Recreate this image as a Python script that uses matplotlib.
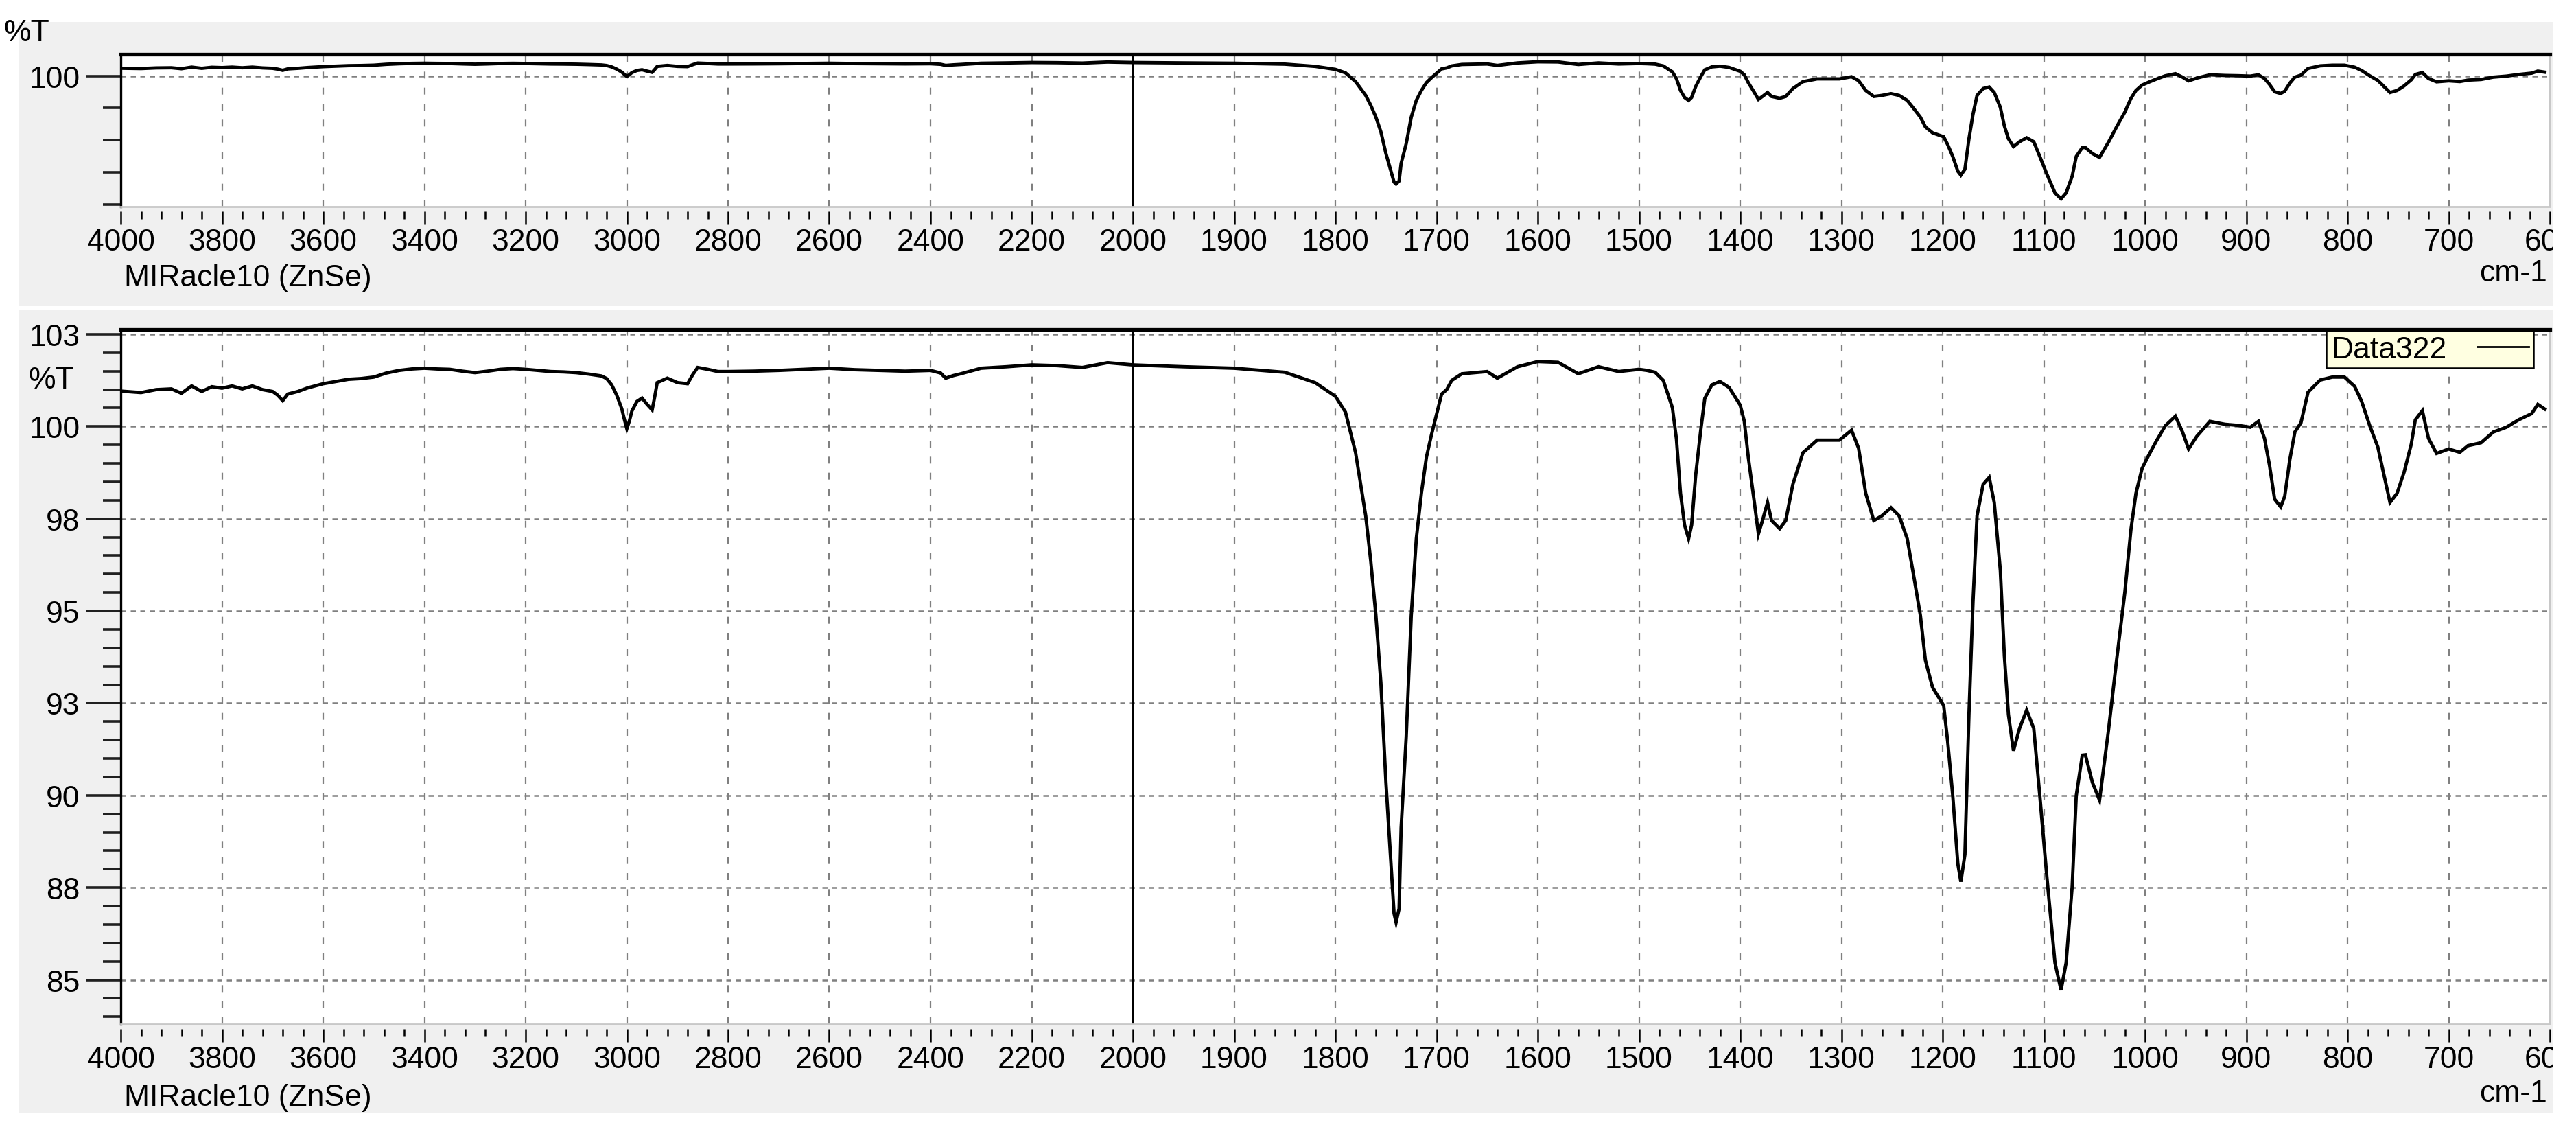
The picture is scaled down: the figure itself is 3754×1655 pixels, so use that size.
import numpy as np
import matplotlib
matplotlib.use("Agg")
import matplotlib.pyplot as plt
from matplotlib.ticker import FixedLocator, NullFormatter
from matplotlib.lines import Line2D
from matplotlib.patches import Rectangle

# spectrum (cm-1, %T)
wavenumber = [4000, 3960, 3930, 3900, 3880, 3860, 3840, 3820, 3800, 3780, 3760, 3740, 3720,
              3700, 3690, 3680, 3670, 3650, 3630, 3600, 3575, 3550, 3525, 3500, 3475, 3450,
              3425, 3400, 3375, 3350, 3325, 3300, 3275, 3250, 3225, 3200, 3175, 3150, 3125,
              3100, 3075, 3050, 3040, 3030, 3020, 3010, 3005, 3000, 2995, 2990, 2980, 2970,
              2960, 2950, 2945, 2940, 2920, 2900, 2880, 2870, 2860, 2840, 2820, 2800, 2750,
              2700, 2650, 2600, 2550, 2500, 2450, 2400, 2380, 2370, 2355, 2340, 2300, 2250,
              2200, 2150, 2100, 2050, 2025, 2000,
              1950, 1900, 1850, 1820, 1800, 1790, 1780, 1770, 1765, 1760, 1755, 1750, 1745,
              1742, 1740, 1737, 1735, 1730, 1725, 1720, 1715, 1710, 1705, 1700, 1695, 1690,
              1685, 1675, 1650, 1640, 1620, 1600, 1580, 1560, 1540, 1520, 1500,
              1492, 1484, 1476, 1467, 1463, 1459, 1455, 1451, 1448, 1444, 1439, 1435, 1428,
              1420, 1411, 1400, 1396, 1392, 1386, 1382, 1378, 1373, 1369, 1361, 1355, 1348,
              1338, 1324, 1316, 1302, 1290, 1283, 1276, 1268, 1260, 1251, 1243, 1235, 1228,
              1222, 1217, 1210, 1199, 1195, 1190, 1185, 1182, 1178, 1174, 1170, 1166, 1160,
              1154, 1149, 1143, 1139, 1135, 1130, 1124, 1117, 1110, 1104, 1097, 1089, 1083,
              1078, 1072, 1068, 1062, 1059, 1052, 1045, 1036, 1028, 1020, 1014, 1009, 1003,
              997, 989, 980, 970, 963, 957, 949, 936, 921, 908, 896, 888, 882, 877, 872, 866,
              862, 857, 852, 846, 839, 827, 815, 803, 793, 786, 778, 770, 764, 758, 751, 744,
              737, 733, 726, 720, 712, 700, 689, 681, 668, 656, 643, 631, 618, 612, 605]
transmittance = [100.96, 100.92, 101.0, 101.02, 100.9, 101.1, 100.95, 101.08, 101.04, 101.1,
                 101.02, 101.1, 101.0, 100.95, 100.85, 100.7, 100.88, 100.95, 101.05, 101.16,
                 101.22, 101.28, 101.3, 101.34, 101.45, 101.52, 101.56, 101.58, 101.56, 101.55,
                 101.5, 101.46, 101.5, 101.55, 101.57, 101.55, 101.52, 101.49, 101.48, 101.46,
                 101.42, 101.37, 101.3, 101.13, 100.85, 100.48, 100.2, 99.94, 100.15, 100.42,
                 100.68, 100.77, 100.6, 100.45, 100.8, 101.19, 101.31, 101.19, 101.16, 101.4,
                 101.6, 101.55, 101.49, 101.49, 101.5, 101.52, 101.55, 101.58, 101.54, 101.52,
                 101.5, 101.52, 101.45, 101.31, 101.38, 101.43, 101.58, 101.62, 101.67, 101.65,
                 101.6, 101.73, 101.7, 101.67,
                 101.62, 101.58, 101.47, 101.19, 100.82, 100.39, 99.29, 97.58, 96.35, 94.9,
                 93.05, 90.35, 88.15, 86.8, 86.56, 86.93, 89.13, 91.58, 94.88, 96.96, 98.19,
                 99.17, 99.78, 100.33, 100.88, 101.0, 101.25, 101.43, 101.49, 101.31, 101.62,
                 101.76, 101.74, 101.43, 101.62, 101.49, 101.55,
                 101.52, 101.47, 101.25, 100.51, 99.66, 98.19, 97.33, 96.96, 97.33, 98.68,
                 99.9, 100.76, 101.13, 101.22, 101.06, 100.58, 100.15, 99.17, 97.94, 97.09,
                 97.45, 97.94, 97.45, 97.23, 97.45, 98.43, 99.29, 99.63, 99.63, 99.63, 99.9,
                 99.41, 98.19, 97.45, 97.58, 97.8, 97.58, 96.96, 95.86, 94.88, 93.66, 92.93,
                 92.44, 91.46, 89.99, 88.15, 87.66, 88.4, 92.19, 95.25, 97.58, 98.43, 98.62,
                 97.94, 96.1, 93.78, 92.19, 91.21, 91.82, 92.31, 91.82, 89.99, 87.78, 85.46,
                 84.72, 85.46, 87.54, 89.99, 91.09, 91.1, 90.35, 89.87, 91.8, 93.7, 95.5, 97.2,
                 98.19, 98.86, 99.19, 99.6, 100.02, 100.28, 99.85, 99.39, 99.73, 100.14,
                 100.06, 100.03, 99.98, 100.14, 99.68, 98.94, 98.03, 97.82, 98.11, 99.1,
                 99.85, 100.1, 100.93, 101.26, 101.34, 101.34, 101.09, 100.68, 100.02, 99.44,
                 98.69, 97.94, 98.19, 98.77, 99.52, 100.18, 100.43, 99.68, 99.27, 99.39, 99.3,
                 99.48, 99.56, 99.85, 99.98, 100.18, 100.35, 100.6, 100.47]

x_major = [4000, 3800, 3600, 3400, 3200, 3000, 2800, 2600, 2400, 2200, 2000,
           1900, 1800, 1700, 1600, 1500, 1400, 1300, 1200, 1100, 1000, 900, 800, 700, 600]
main_yticks = [85, 87.5, 90, 92.5, 95, 97.5, 100, 102.5]
overview_yticks = [100]
overview_yminor = [84, 88, 92, 96]
legend_label = "Data322"
accessory = "MIRacle10 (ZnSe)"

W, H = 3754, 1656
FONT = "Liberation Sans"
FS = 32
GRID = "#808080"


def fwd(x):
    x = np.asarray(x, dtype=float)
    return np.where(x >= 2000, x, 2 * x - 2000)


def inv(u):
    u = np.asarray(u, dtype=float)
    return np.where(u >= 2000, u, (u + 2000) / 2)


def box(x0, y0, x1, y1):
    return [x0 / W, 1 - y1 / H, (x1 - x0) / W, (y1 - y0) / H]


x_minor = [v for v in list(range(4000, 2000, -40)) + list(range(2000, 599, -20)) if v not in x_major]

plt.rcParams["font.family"] = [FONT, "DejaVu Sans"]
fig = plt.figure(figsize=(W / 100, H / 100), dpi=100)

# grey panels behind the two plots
for y0, y1 in [(33, 447), (452, 1623)]:
    fig.patches.append(Rectangle((28 / W, 1 - y1 / H), (3720 - 28) / W, (y1 - y0) / H,
                                 transform=fig.transFigure, facecolor="#f0f0f0",
                                 edgecolor="none", zorder=-10))


def setup(ax, ylim, yt, ytminor, ylabels, hgrid):
    ax.set_xscale("function", functions=(fwd, inv))
    ax.set_xlim(4000, 600)
    ax.set_ylim(*ylim)
    ax.plot(wavenumber, transmittance, color="black", lw=3.5, zorder=4,
            solid_joinstyle="miter")
    ax.axvline(2000, color="black", lw=1.6, zorder=3)

    ax.xaxis.set_major_locator(FixedLocator(x_major))
    ax.xaxis.set_minor_locator(FixedLocator(x_minor))
    ax.set_xticklabels([str(v) for v in x_major])
    ax.xaxis.set_minor_formatter(NullFormatter())
    ax.yaxis.set_major_locator(FixedLocator(yt))
    ax.yaxis.set_minor_locator(FixedLocator(ytminor))
    ax.set_yticklabels(ylabels)

    ax.tick_params(axis="x", which="major", direction="out", length=14, width=1.8,
                   labelsize=FS, pad=3, color="black")
    ax.tick_params(axis="x", which="minor", direction="out", length=8, width=1.8, color="black")
    ax.tick_params(axis="y", which="major", direction="out", length=36, width=2.6,
                   labelsize=FS, pad=7, color="#202020")
    ax.tick_params(axis="y", which="minor", direction="out", length=19, width=2.6, color="#202020")

    ax.xaxis.grid(True, which="major", color=GRID, lw=1.6, linestyle=(0, (4.5, 6)))
    ax.yaxis.grid(False)
    for v in hgrid:
        ax.axhline(v, color=GRID, lw=1.8, linestyle=(0, (3, 2.6)), zorder=1)
    ax.set_axisbelow(True)

    ax.spines["top"].set_linewidth(3.8)
    ax.spines["left"].set_linewidth(2.4)
    ax.spines["right"].set_color("#c8c8c8")
    ax.spines["right"].set_linewidth(1.5)
    ax.spines["bottom"].set_position(("outward", 5))
    ax.spines["bottom"].set_visible(False)
    ax.plot([0, 1], [0, 0], transform=ax.transAxes, color="#c8c8c8", lw=2, clip_on=False, zorder=5)


top = fig.add_axes(box(176, 80, 3716, 302))
setup(top, (83.75, 102.7), overview_yticks, overview_yminor, ["100"], [100])

main = fig.add_axes(box(176, 481, 3716, 1493))
main_labels = [str(int(np.floor(v + 0.5))) for v in main_yticks]
setup(main, (83.8, 102.63), main_yticks, [v / 2 for v in range(168, 206) if v / 2 not in main_yticks],
      main_labels, main_yticks)

leg = main.legend([Line2D([], [], color="black", lw=2)], [legend_label], loc="upper right",
                  bbox_to_anchor=((3692 - 176) / (3716 - 176), 0.998), markerfirst=False,
                  frameon=True, fancybox=False, framealpha=1, facecolor="#ffffe1",
                  edgecolor="black", borderpad=0.15, borderaxespad=0, handlelength=1.7,
                  handletextpad=1.0, fontsize=FS)
leg.get_frame().set_linewidth(1.8)
leg.set_zorder(6)

for yc_lab, yc_pct, x_pct in [(405, 49, 72), (1600, 555, 108)]:
    fig.text(181 / W, 1 - yc_lab / H, accessory, fontsize=FS, ha="left", va="center")
    fig.text(3712 / W, 1 - (yc_lab - 6) / H, "cm-1", fontsize=FS, ha="right", va="center")
    fig.text(x_pct / W, 1 - yc_pct / H, "%T", fontsize=FS, ha="right", va="center")

# the source image is cut just right of the plots, which trims the last label
fig.patches.append(Rectangle((3720 / W, 0), (W - 3720) / W, 1, transform=fig.transFigure,
                             facecolor="white", edgecolor="none", zorder=20))

fig.savefig("out.png", dpi=100, facecolor="white")
